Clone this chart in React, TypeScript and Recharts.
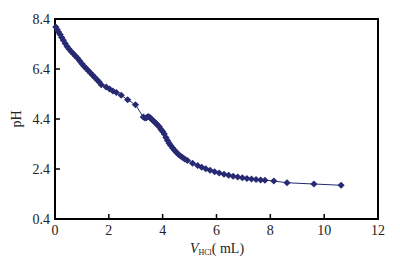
import React from "react";
import { LineChart, Line, XAxis, YAxis, ReferenceArea } from "recharts";

const volumes = [
  0.03, 0.08, 0.13, 0.19, 0.25, 0.31, 0.38, 0.45, 0.52, 0.6, 0.68, 0.76, 0.84, 0.92, 1.0, 1.08,
  1.16, 1.24, 1.32, 1.4, 1.48, 1.56, 1.64, 1.72, 1.9, 2.03, 2.15, 2.28, 2.46, 2.7, 2.99, 3.28,
  3.34, 3.4, 3.46, 3.52, 3.58, 3.64, 3.7, 3.76, 3.82, 3.88, 3.94, 4.0, 4.06, 4.12, 4.18, 4.24,
  4.3, 4.37, 4.44, 4.51, 4.58, 4.66, 4.74, 4.82, 4.92, 5.11, 5.3, 5.45, 5.6, 5.76, 5.93, 6.1,
  6.28, 6.45, 6.62, 6.79, 6.96, 7.13, 7.3, 7.47, 7.64, 7.8, 8.13, 8.62, 9.62, 10.63,
];
const phValues = [
  8.08, 7.98, 7.88, 7.78, 7.66, 7.55, 7.42, 7.3, 7.2, 7.1, 7.01, 6.92, 6.83, 6.72, 6.61, 6.51,
  6.42, 6.33, 6.24, 6.15, 6.06, 5.97, 5.88, 5.77, 5.68, 5.6, 5.52, 5.46, 5.35, 5.17, 4.97, 4.48,
  4.44, 4.45, 4.5, 4.47, 4.4, 4.34, 4.28, 4.22, 4.15, 4.08, 3.98, 3.9, 3.8, 3.66, 3.54, 3.43,
  3.34, 3.24, 3.15, 3.07, 2.99, 2.92, 2.86, 2.8, 2.74, 2.63, 2.54, 2.47, 2.41, 2.35, 2.29, 2.24,
  2.19, 2.15, 2.11, 2.08, 2.05, 2.02, 2.0, 1.98, 1.96, 1.95, 1.92, 1.85, 1.8, 1.75,
];
const xTicks = [0, 2, 4, 6, 8, 10, 12];
const yTicks = [0.4, 2.4, 4.4, 6.4, 8.4];

const data = volumes.map((v, i) => ({ v, ph: phValues[i] }));

const COLOR = "#272a72";
const FONT = "'Liberation Serif', 'Times New Roman', serif";

const Diamond = (props: any) => {
  const { cx, cy, index } = props;
  if (cx == null || cy == null) return null;
  const r = 3.6;
  return (
    <polygon
      key={`d-${index}`}
      points={`${cx},${cy - r} ${cx + r},${cy} ${cx},${cy + r} ${cx - r},${cy}`}
      fill={COLOR}
      stroke="none"
    />
  );
};

const XLabel = () => (
  <text x={217} y={253} textAnchor="middle" fontFamily={FONT} fontSize={14} fill="#222">
    <tspan fontStyle="italic">V</tspan>
    <tspan fontSize={8} dy={2}>HCl</tspan>
    <tspan dy={-2}>{"( mL)"}</tspan>
  </text>
);

export default function App() {
  return (
    <div style={{ position: "absolute", left: 0, top: 0, width: 400, height: 271, background: "#fff" }}>
      <LineChart width={400} height={271} data={data} margin={{ top: 19, right: 22, bottom: 0, left: 0 }}>
        <XAxis
          dataKey="v"
          type="number"
          domain={[0, 12]}
          ticks={xTicks}
          interval={0}
          height={52}
          tickSize={-5}
          tickMargin={11}
          axisLine={{ stroke: "#000", strokeWidth: 2 }}
          tickLine={{ stroke: "#000", strokeWidth: 1.5 }}
          tick={{ fontFamily: FONT, fontSize: 14, fill: "#222" }}
          label={{ content: () => <XLabel /> }}
        />
        <YAxis
          dataKey="ph"
          type="number"
          domain={[0.4, 8.4]}
          ticks={yTicks}
          interval={0}
          width={55}
          tickSize={-5}
          tickMargin={10}
          axisLine={{ stroke: "#000", strokeWidth: 2 }}
          tickLine={{ stroke: "#000", strokeWidth: 1.5 }}
          tick={{ fontFamily: FONT, fontSize: 14, fill: "#222" }}
          tickFormatter={(t: number) => t.toFixed(1)}
          label={{
            value: "pH",
            angle: -90,
            position: "insideLeft",
            offset: 16,
            style: { fontFamily: FONT, fontSize: 14, fill: "#222", textAnchor: "middle" },
          }}
        />
        <ReferenceArea x1={0} x2={12} y1={0.4} y2={8.4} fill="none" stroke="#000" strokeWidth={2} />
        <Line
          type="linear"
          dataKey="ph"
          stroke={COLOR}
          strokeWidth={1}
          dot={<Diamond />}
          activeDot={false}
          isAnimationActive={false}
        />
      </LineChart>
    </div>
  );
}
